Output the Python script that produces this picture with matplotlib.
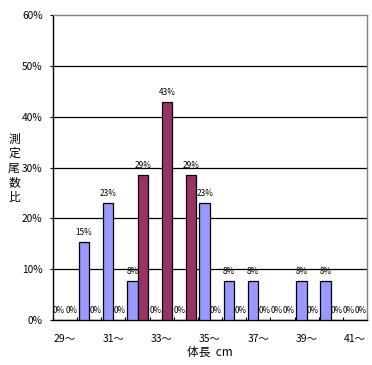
import numpy as np
import matplotlib
matplotlib.use('Agg')
import matplotlib.pyplot as plt

plt.rcParams['font.family'] = ['Noto Sans CJK JP', 'DejaVu Sans']

# body length classes (cm) and share of measured fish per class (%)
lengths = [29, 30, 31, 32, 33, 34, 35, 36, 37, 38, 39, 40, 41]
tick_labels = ['29～', '31～', '33～', '35～', '37～', '39～', '41～']
series_a = [0, 15.4, 23.1, 7.7, 0, 0, 23.1, 7.7, 7.7, 0, 7.7, 7.7, 0]
series_b = [0, 0, 0, 28.6, 42.9, 28.6, 0, 0, 0, 0, 0, 0, 0]

fig = plt.figure(figsize=(3.72, 3.65), dpi=100)
ax = fig.add_axes([53/372, 1 - 320/365, 314/372, 305/365])

x = np.arange(len(lengths)) + 0.5
w = 0.44
bars_a = ax.bar(x - w/2, series_a, w, color='#9999FF', edgecolor='black', linewidth=0.9, zorder=3)
bars_b = ax.bar(x + w/2, series_b, w, color='#993366', edgecolor='black', linewidth=0.9, zorder=3)

# value labels; zero labels sit side by side at the base, nudge them apart a touch
for bars, vals, nudge in [(bars_a, series_a, -0.6), (bars_b, series_b, 0.6)]:
    for b, v in zip(bars, vals):
        dx = nudge if v == 0 else 0
        ax.annotate(f'{round(v)}%', (b.get_x() + b.get_width()/2, v),
                    xytext=(dx, 3.5), textcoords='offset points',
                    ha='center', va='bottom', fontsize=5.9, zorder=4)

ax.set_xlim(0, len(lengths))
ax.set_ylim(0, 60)
ax.set_yticks(range(0, 61, 10))
ax.set_yticklabels([f'{t}%' for t in range(0, 61, 10)], fontsize=7.3)
ax.set_xticks(x[::2])
ax.set_xticklabels(tick_labels, fontsize=7.5)
ax.set_xticks(np.arange(0, len(lengths) + 1), minor=True)
ax.tick_params(axis='x', which='major', length=0, pad=10)
ax.tick_params(axis='x', which='minor', direction='in', length=2.5, width=0.8)
ax.tick_params(axis='y', direction='out', length=2.5, width=0.8, pad=5)

for yv in range(10, 60, 10):
    ax.axhline(yv, color='black', linewidth=0.9, zorder=1)

ax.spines['left'].set_color('black')
ax.spines['bottom'].set_color('black')
ax.spines['top'].set_color('#808080')
ax.spines['right'].set_color('#808080')
for s in ax.spines.values():
    s.set_linewidth(1)

ax.set_xlabel('体長  cm', fontsize=8.5, labelpad=1)
fig.text(14/372, 1 - 168/365, '\n'.join('測定尾数比'), ha='center', va='center',
         fontsize=8.5, linespacing=1.15)

fig.savefig('out.png', dpi=100)
